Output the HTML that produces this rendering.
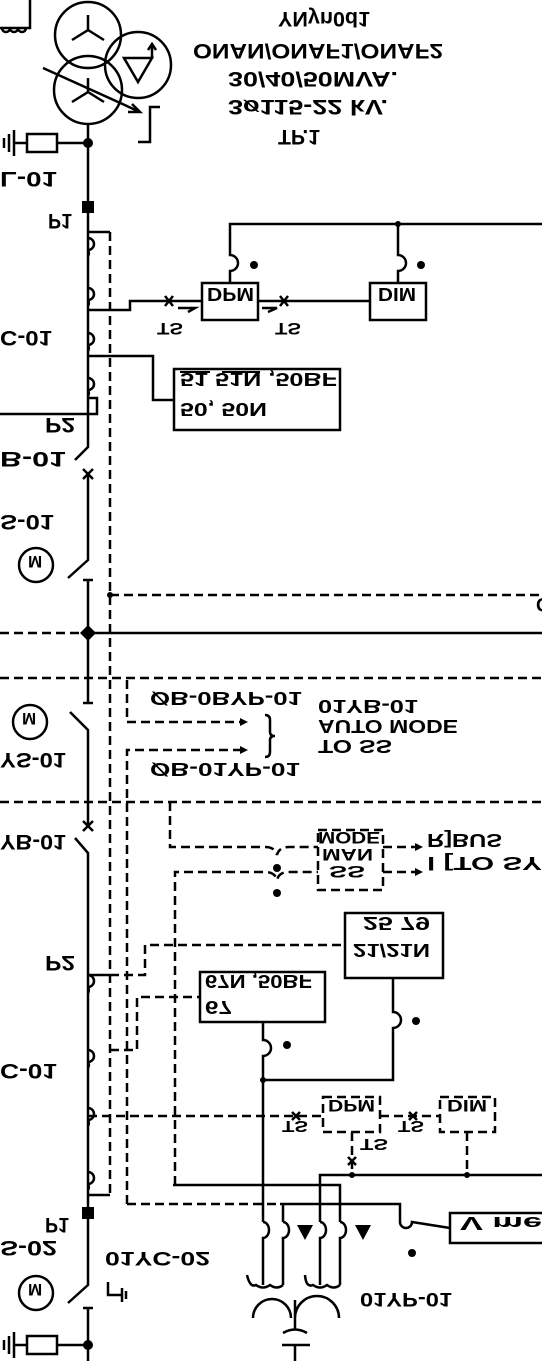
<!DOCTYPE html>
<html><head><meta charset="utf-8"><style>
html,body{margin:0;padding:0;background:#fff}
svg{display:block}
text{font-family:"Liberation Sans",sans-serif;font-weight:bold;fill:#000}
</style></head><body>
<svg width="542" height="1361" viewBox="0 0 542 1361" xmlns="http://www.w3.org/2000/svg">
<g fill="none" stroke="#000" stroke-width="2.5">
<circle cx="88" cy="35" r="33"/>
<circle cx="88" cy="90" r="34"/>
<circle cx="138" cy="65" r="33"/>
<path d="M88 15 L88 30 L72 40 M88 30 L104 40"/>
<path d="M88 78 L88 92 L72 102 M88 92 L104 102"/>
<path d="M124 58 L152 58 L138 82 Z"/>
<path d="M152 58 L152 44 M148 50 L152 44 L156 50"/>
<path d="M43 68 L140 112 M132 104 L140 112 L128 112"/>
<path d="M160 107 L150 107 L150 142 L138 142"/>
<path d="M0 28 L30 28 L30 0"/>
<path d="M2 28 a4 4 0 0 0 8 0 a4 4 0 0 0 8 0 a4 4 0 0 0 8 0"/>
<path d="M88 124 L88 447 L75 460"/>
<path d="M57 143 L88 143"/>
<rect x="27" y="134" width="30" height="18"/>
<path d="M27 143 L14 143 M14 130 L14 156 M9 134 L9 152 M4 138 L4 148"/>
<path d="M88 238 a6 6 0 0 1 0 12 M88 250 a6 6 0 0 1 0 6"/>
<path d="M88 288 a6 6 0 0 1 0 12 M88 300 a6 6 0 0 1 0 6"/>
<path d="M88 333 a6 6 0 0 1 0 12 M88 345 a6 6 0 0 1 0 6"/>
<path d="M88 378 a6 6 0 0 1 0 12 M88 390 a6 6 0 0 1 0 6"/>
<path d="M88 232 L110 232"/>
<path d="M88 310 L130 310 L130 301 L202 301"/>
<path d="M258 301 L370 301"/>
<path d="M88 356 L153 356 L153 400 L174 400"/>
<path d="M0 414 L97 414 L97 398 L88 398"/>
<rect x="202" y="283" width="56" height="37"/>
<rect x="370" y="283" width="56" height="37"/>
<rect x="174" y="369" width="166" height="61"/>
<path d="M542 224 L230 224 L230 255 a6 6 0 0 1 0 16 L230 283"/>
<path d="M398 224 L398 255 a6 6 0 0 1 0 16 L398 283"/>
<path d="M165 296 L173 306 M173 296 L165 306 M178 308 L195 308 L188 312"/>
<path d="M280 296 L288 306 M288 296 L280 306 M262 308 L277 308 L268 312"/>
<path d="M83 469 L93 479 M93 469 L83 479"/>
<path d="M88 474 L88 560 L68 578"/>
<circle cx="36" cy="565" r="17"/>
<path d="M180 372 L210 372 M222 372 L260 372" stroke-width="2"/>
<path d="M88 580 L88 703 M83 580 L93 580 M83 703 L93 703"/>
<path d="M88 633 L542 633"/>
<circle cx="30" cy="722" r="17"/>
<path d="M70 712 L88 730 L88 826 M83 821 L93 831 M93 821 L83 831"/>
<path d="M75 838 L88 853 L88 1208"/>
<path d="M265 715 q5 0 5 5 v12 q0 4 5 4 q-5 0 -5 4 v12 q0 5 -5 5"/>
<path d="M88 975 a6 6 0 0 1 0 12 M88 987 a6 6 0 0 1 0 6"/>
<path d="M88 1050 a6 6 0 0 1 0 12 M88 1062 a6 6 0 0 1 0 6"/>
<path d="M88 1108 a6 6 0 0 1 0 12 M88 1120 a6 6 0 0 1 0 6"/>
<path d="M88 1172 a6 6 0 0 1 0 12 M88 1184 a6 6 0 0 1 0 6"/>
<path d="M88 975 L110 975 M88 1195 L110 1195"/>
<rect x="345" y="913" width="98" height="65"/>
<rect x="200" y="972" width="125" height="50"/>
<path d="M263 1022 L263 1040 a6 6 0 0 1 0 16 L263 1222"/>
<path d="M263 1080 L393 1080 L393 1028 a6 6 0 0 0 0 -16 L393 978"/>
<path d="M320 1222 L320 1175 L542 1175"/>
<path d="M173 1185 L340 1185 L340 1222"/>
<path d="M280 1204 L400 1204 L400 1222 a6 6 0 0 0 12 0 L450 1228"/>
<rect x="450" y="1213" width="100" height="30"/>
<path d="M283 1204 L283 1222"/>
<path d="M263 1222 a6 8 0 0 1 0 16 L263 1285 M283 1222 a6 8 0 0 1 0 16 L283 1285 M320 1222 a6 8 0 0 1 0 16 L320 1285 M340 1222 a6 8 0 0 1 0 16 L340 1285"/>
<path d="M247 1275 Q250 1288 256 1285 Q263 1290 270 1285 Q277 1290 283 1285 M305 1275 Q306 1288 313 1285 Q320 1290 327 1285 Q334 1290 340 1285"/>
<path d="M253 1318 a19 19 0 0 1 38 0 M295 1318 a19 19 0 0 1 44 0 M295 1300 L295 1330 M283 1333 Q295 1326 307 1333 M282 1345 L310 1345 M295 1345 L295 1361"/>
<path d="M88 1218 L88 1285 L68 1303"/>
<circle cx="36" cy="1293" r="17"/>
<path d="M88 1308 L88 1361 M83 1308 L93 1308 M57 1345 L88 1345"/>
<rect x="27" y="1336" width="30" height="18"/>
<path d="M27 1345 L14 1345 M14 1332 L14 1358 M9 1336 L9 1354 M4 1340 L4 1350"/>
<path d="M108 1282 L108 1295 L122 1295 M122 1288 L122 1302 M126 1291 L126 1299"/>
<path d="M292 1112 L300 1120 M300 1112 L292 1120 M409 1112 L417 1120 M417 1112 L409 1120 M348 1157 L356 1165 M356 1157 L348 1165"/>
</g>
<g fill="none" stroke="#000" stroke-width="2.5" stroke-dasharray="9 5">
<path d="M110 232 L110 1195"/>
<path d="M110 595 L542 595"/>
<path d="M0 633 L88 633"/>
<path d="M0 678 L542 678"/>
<path d="M127 680 L127 722 L240 722"/>
<path d="M127 1204 L127 750 L240 750"/>
<path d="M0 802 L542 802"/>
<path d="M170 802 L170 847 L265 847 q10 0 12 8 q2 -8 12 -8 L318 847"/>
<path d="M175 1185 L175 872 L265 872 q10 0 12 8 q2 -8 12 -8 L318 872"/>
<rect x="318" y="830" width="65" height="60"/>
<path d="M383 847 L420 847 M383 872 L420 872"/>
<path d="M127 1204 L280 1204"/>
<path d="M110 975 L145 975 L145 945 L345 945"/>
<path d="M110 1050 L137 1050 L137 997 L200 997"/>
<path d="M88 1116 L323 1116 M380 1116 L440 1116"/>
<rect x="323" y="1097" width="57" height="35"/>
<rect x="440" y="1097" width="55" height="35"/>
<path d="M352 1132 L352 1175 M467 1132 L467 1175"/>
</g>
<g fill="#000">
<circle cx="88" cy="143" r="5"/>
<rect x="82" y="201" width="12" height="12"/>
<rect x="82" y="1207" width="12" height="12"/>
<circle cx="88" cy="1345" r="5"/>
<circle cx="398" cy="224" r="3"/>
<circle cx="254" cy="265" r="4"/><circle cx="421" cy="265" r="4"/>
<circle cx="110" cy="595" r="3"/>
<path d="M80 633 L88 625 L96 633 L88 641 Z"/>
<path d="M240 718 L248 722 L240 726 Z M240 746 L248 750 L240 754 Z"/>
<path d="M415 843 L423 847 L415 851 Z M415 868 L423 872 L415 876 Z"/>
<circle cx="277" cy="868" r="4"/><circle cx="277" cy="893" r="4"/>
<circle cx="287" cy="1045" r="4"/><circle cx="416" cy="1021" r="4"/>
<circle cx="263" cy="1080" r="3"/>
<circle cx="352" cy="1175" r="3"/><circle cx="467" cy="1175" r="3"/>
<circle cx="412" cy="1253" r="4"/>
<path d="M297 1225 L313 1225 L305 1240 Z M355 1225 L371 1225 L363 1240 Z"/>
</g>
<g font-size="21" lengthAdjust="spacingAndGlyphs">
<text transform="translate(278,12) scale(1,-1)" textLength="92" lengthAdjust="spacingAndGlyphs">YNyn0d1</text>
<text transform="translate(193,44) scale(1,-1)" textLength="250" lengthAdjust="spacingAndGlyphs">ONAN/ONAF1/ONAF2</text>
<text transform="translate(228,72) scale(1,-1)" textLength="170" lengthAdjust="spacingAndGlyphs">30/40/50MVA.</text>
<text transform="translate(228,100) scale(1,-1)" textLength="160" lengthAdjust="spacingAndGlyphs">3ø115-22 kV.</text>
<text transform="translate(278,130) scale(1,-1)" textLength="42" lengthAdjust="spacingAndGlyphs">TP.1</text>
<text transform="translate(0,172) scale(1,-1)" textLength="57" lengthAdjust="spacingAndGlyphs">L-01</text>
<text transform="translate(48,214) scale(1,-1)" textLength="24" lengthAdjust="spacingAndGlyphs">P1</text>
<text transform="translate(0,331) scale(1,-1)" textLength="52" lengthAdjust="spacingAndGlyphs">C-01</text>
<text transform="translate(45,418) scale(1,-1)" textLength="30" lengthAdjust="spacingAndGlyphs">P2</text>
<text transform="translate(0,452) scale(1,-1)" textLength="66" lengthAdjust="spacingAndGlyphs">B-01</text>
<text transform="translate(0,515) scale(1,-1)" textLength="54" lengthAdjust="spacingAndGlyphs">S-01</text>
<text transform="translate(207,288) scale(1,-1)" font-size="18" textLength="47" lengthAdjust="spacingAndGlyphs">DPM</text>
<text transform="translate(378,288) scale(1,-1)" font-size="18" textLength="38" lengthAdjust="spacingAndGlyphs">DIM</text>
<text transform="translate(157,323) scale(1,-1)" font-size="17" textLength="26" lengthAdjust="spacingAndGlyphs">TS</text>
<text transform="translate(275,323) scale(1,-1)" font-size="17" textLength="26" lengthAdjust="spacingAndGlyphs">TS</text>
<text transform="translate(180,373) scale(1,-1)" font-size="18" textLength="157" lengthAdjust="spacingAndGlyphs">51  51N ,50BF</text>
<text transform="translate(180,403) scale(1,-1)" font-size="18" textLength="87" lengthAdjust="spacingAndGlyphs">50, 50N</text>
<text transform="translate(28,556) scale(1,-1)" font-size="17">M</text>
<text transform="translate(22,713) scale(1,-1)" font-size="17">M</text>
<text transform="translate(28,1284) scale(1,-1)" font-size="17">M</text>
<text transform="translate(150,692) scale(1,-1)" font-size="18" textLength="152" lengthAdjust="spacingAndGlyphs">ØB-0BYP-01</text>
<text transform="translate(150,763) scale(1,-1)" font-size="18" textLength="150" lengthAdjust="spacingAndGlyphs">ØB-01YP-01</text>
<text transform="translate(318,700) scale(1,-1)" font-size="18" textLength="100" lengthAdjust="spacingAndGlyphs">01YB-01</text>
<text transform="translate(318,720) scale(1,-1)" font-size="18" textLength="140" lengthAdjust="spacingAndGlyphs">AUTO MODE</text>
<text transform="translate(318,740) scale(1,-1)" font-size="18" textLength="74" lengthAdjust="spacingAndGlyphs">TO  SS</text>
<text transform="translate(0,753) scale(1,-1)" textLength="66" lengthAdjust="spacingAndGlyphs">YS-01</text>
<text transform="translate(0,835) scale(1,-1)" textLength="66" lengthAdjust="spacingAndGlyphs">YB-01</text>
<text transform="translate(318,832) scale(1,-1)" font-size="17" textLength="62" lengthAdjust="spacingAndGlyphs">MODE</text>
<text transform="translate(322,849) scale(1,-1)" font-size="17" textLength="51" lengthAdjust="spacingAndGlyphs">MAN</text>
<text transform="translate(329,866) scale(1,-1)" font-size="17" textLength="36" lengthAdjust="spacingAndGlyphs">SS</text>
<text transform="translate(427,834) scale(1,-1)" font-size="18" textLength="75" lengthAdjust="spacingAndGlyphs">R]BUS</text>
<text transform="translate(427,857) scale(1,-1)" font-size="18" textLength="115" lengthAdjust="spacingAndGlyphs">l [TO SY</text>
<text transform="translate(45,956) scale(1,-1)" textLength="30" lengthAdjust="spacingAndGlyphs">P2</text>
<text transform="translate(0,1064) scale(1,-1)" textLength="57" lengthAdjust="spacingAndGlyphs">C-01</text>
<text transform="translate(45,1218) scale(1,-1)" textLength="24" lengthAdjust="spacingAndGlyphs">P1</text>
<text transform="translate(0,1241) scale(1,-1)" textLength="57" lengthAdjust="spacingAndGlyphs">S-02</text>
<text transform="translate(363,917) scale(1,-1)" font-size="18" textLength="67" lengthAdjust="spacingAndGlyphs">25  79</text>
<text transform="translate(353,944) scale(1,-1)" font-size="18" textLength="77" lengthAdjust="spacingAndGlyphs">21/21N</text>
<text transform="translate(205,975) scale(1,-1)" font-size="18" textLength="107" lengthAdjust="spacingAndGlyphs">67N ,50BF</text>
<text transform="translate(205,1001) scale(1,-1)" font-size="18" textLength="27" lengthAdjust="spacingAndGlyphs">67</text>
<text transform="translate(328,1100) scale(1,-1)" font-size="17" textLength="47" lengthAdjust="spacingAndGlyphs">DPM</text>
<text transform="translate(447,1100) scale(1,-1)" font-size="17" textLength="40" lengthAdjust="spacingAndGlyphs">DIM</text>
<text transform="translate(282,1121) scale(1,-1)" font-size="16" textLength="26" lengthAdjust="spacingAndGlyphs">TS</text>
<text transform="translate(398,1121) scale(1,-1)" font-size="16" textLength="26" lengthAdjust="spacingAndGlyphs">TS</text>
<text transform="translate(360,1139) scale(1,-1)" font-size="16" textLength="28" lengthAdjust="spacingAndGlyphs">TS</text>
<text transform="translate(460,1217) scale(1,-1)" font-size="18" textLength="82" lengthAdjust="spacingAndGlyphs">V me</text>
<text transform="translate(105,1252) scale(1,-1)" font-size="19" textLength="105" lengthAdjust="spacingAndGlyphs">01YC-02</text>
<text transform="translate(360,1293) scale(1,-1)" font-size="19" textLength="92" lengthAdjust="spacingAndGlyphs">01YP-01</text>
<text transform="translate(536,598) scale(1,-1)" font-size="19">C</text>
</g>
</svg>
</body></html>
